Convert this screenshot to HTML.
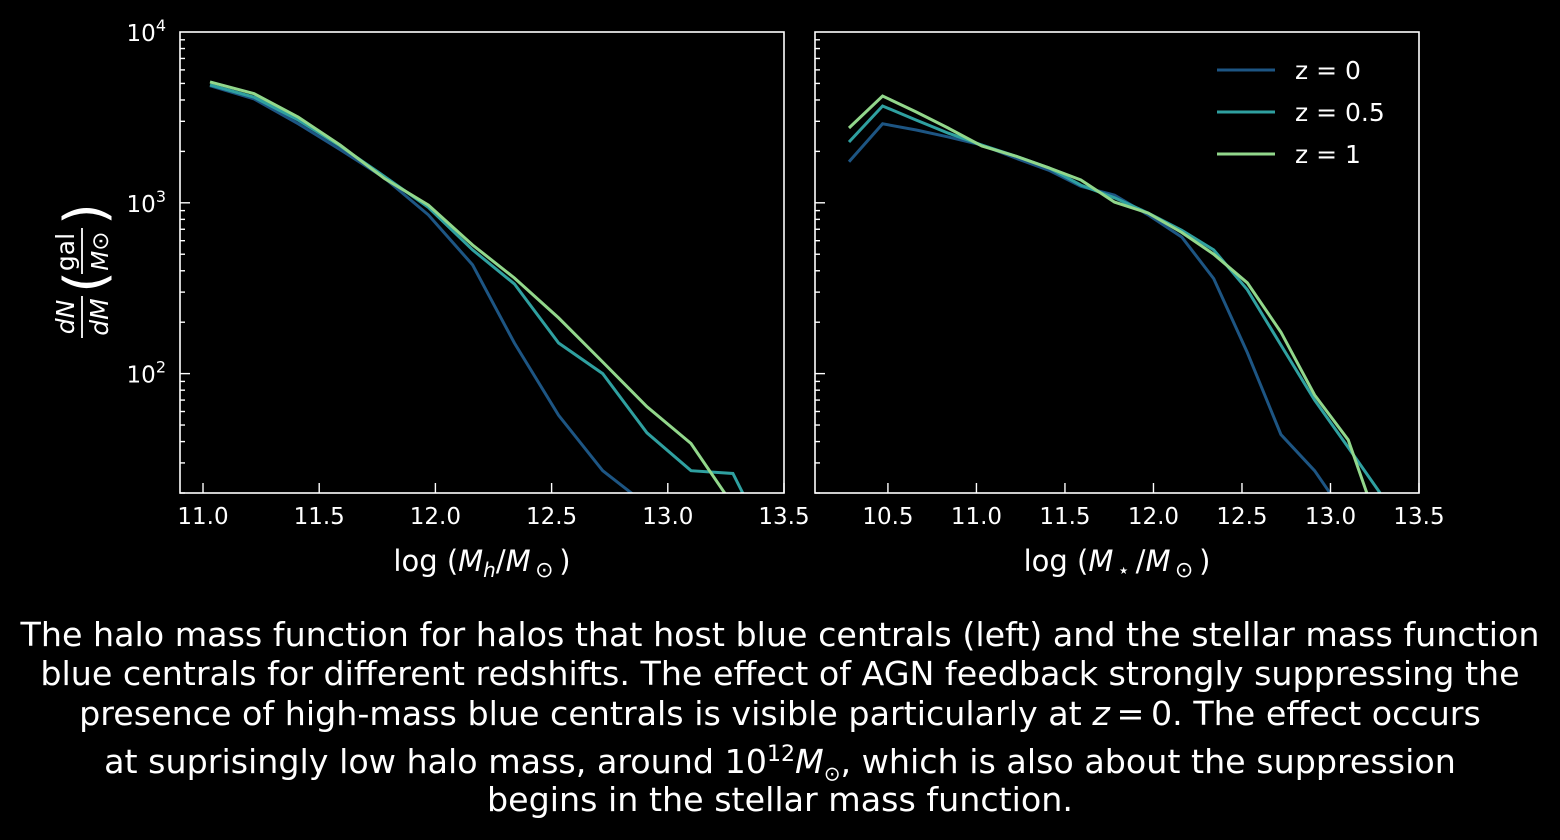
<!DOCTYPE html>
<html><head><meta charset="utf-8"><style>
html,body{margin:0;padding:0;background:#000;width:1560px;height:840px;overflow:hidden}
svg{display:block}
text{font-family:"DejaVu Sans","Liberation Sans",sans-serif;fill:#fff}
.cl{position:absolute;left:0;width:1560px;text-align:center;color:#fff;font-family:"DejaVu Sans","Liberation Sans",sans-serif;font-size:33.3px;line-height:36px;white-space:nowrap}
</style></head><body>
<svg id="chart" width="1560" height="600"></svg>
<div>
<div class="cl" style="top:617px">The halo mass function for halos that host blue centrals (left) and the stellar mass function</div>
<div class="cl" style="top:656px">blue centrals for different redshifts. The effect of AGN feedback strongly suppressing the</div>
<div class="cl" style="top:696px">presence of high-mass blue centrals is visible particularly at <i>z</i>&#8201;=&#8201;0. The effect occurs</div>
<div class="cl" style="top:744px">at suprisingly low halo mass, around 10<sup style="font-size:22px;line-height:0">12</sup><i>M</i><sub style="font-size:20px;line-height:0">⊙</sub>, which is also about the suppression</div>
<div class="cl" style="top:782px">begins in the stellar mass function.</div>
</div>
<script>
const seriesNames = ["z = 0", "z = 0.5", "z = 1"];
const seriesColors = ["#1d5583", "#2fa0a0", "#92d78b"];
const haloX = [11.03,11.22,11.41,11.59,11.78,11.97,12.16,12.34,12.53,12.72,12.91,13.10,13.28,13.47];
const haloZ0 = [4850,4050,2900,2050,1400,850,433,151,57,27,17,10,6,4];
const haloZ05 = [4900,4150,3050,2150,1430,940,530,335,151,100,45,27,26,8];
const haloZ1 = [5100,4350,3170,2180,1390,970,566,363,212,117,64,39,17,8];
const starX = [10.28,10.47,10.66,10.84,11.03,11.22,11.41,11.59,11.78,11.97,12.16,12.34,12.53,12.72,12.91,13.10,13.28];
const starZ0 = [1740,2900,2670,2430,2180,1830,1550,1250,1110,850,630,360,133,44,27,14,8];
const starZ05 = [2270,3690,3050,2560,2180,1880,1600,1270,1070,870,690,530,310,147,70,37,20];
const starZ1 = [2740,4220,3400,2740,2150,1880,1600,1360,1010,870,670,500,340,175,75,41,12];
const xTicks = [11.0,11.5,12.0,12.5,13.0,13.5];
const xTicksR = [10.5,11.0,11.5,12.0,12.5,13.0,13.5];
const NS="http://www.w3.org/2000/svg";
const svg=document.getElementById('chart');
function el(t,a,p){const e=document.createElementNS(NS,t);for(const k in a)e.setAttribute(k,a[k]);(p||svg).appendChild(e);return e;}
const T=32,B=493,ymin=Math.log10(20),ymax=4;
function Y(v){return B-(Math.log10(v)-ymin)/(ymax-ymin)*(B-T);}
function makePanel(name,L,R,x0,x1,ticks,labelY,xs,ys,xlabel){
  const X=v=>L+(v-x0)/(x1-x0)*(R-L);
  const g=el('g',{});
  
  
  const cid='clip-'+name;
  const cp=el('clipPath',{id:cid},g);el('rect',{x:L,y:T,width:R-L,height:B-T},cp);
  const lg=el('g',{'clip-path':'url(#'+cid+')'},g);
  ys.forEach((arr,i)=>{
    const p=el('polyline',{points:arr.map((v,j)=>X(xs[j]).toFixed(1)+','+Y(v).toFixed(1)).join(' '),fill:'none',stroke:seriesColors[i],'stroke-width':3,'stroke-linejoin':'miter'},lg);
    
    
  });
  const fr=el('rect',{x:L,y:T,width:R-L,height:B-T,fill:'none',stroke:'#fff','stroke-width':1.6},g);
  
  
  ticks.forEach(t=>{const x=X(t);el('line',{x1:x,x2:x,y1:B,y2:B-10,stroke:'#fff','stroke-width':1.4},g);
    const tx=el('text',{x:x,y:B+31,'font-size':23,'text-anchor':'middle'},g);tx.textContent=t.toFixed(1);
    
    });
  for(let d=1;d<=3;d++)for(let m=1;m<10;m++){const v=m*Math.pow(10,d);if(v<20||v>10000)continue;const y=Y(v);
    el('line',{x1:L,x2:L+(m==1?10:5),y1:y,y2:y,stroke:'#fff','stroke-width':1.4},g);}
  if(labelY){[2,3,4].forEach(d=>{const y=Y(Math.pow(10,d));const tx=el('text',{x:L-14,y:y+9,'font-size':23,'text-anchor':'end'},g);
    tx.innerHTML='10<tspan dy="-10" font-size="16">'+d+'</tspan>';
    
    });}
  const xl=el('text',{x:(L+R)/2,y:571,'font-size':29,'text-anchor':'middle'},g);
  xl.innerHTML=xlabel;
  
  
}
makePanel('halo-panel',180,784,10.901,13.5,xTicks,true,haloX,[haloZ0,haloZ05,haloZ1],'log (<tspan font-style="italic">M</tspan><tspan font-size="20" dy="6" font-style="italic">h</tspan><tspan dy="-6">/</tspan><tspan font-style="italic">M</tspan><tspan font-size="22" dy="6">&#8201;⊙</tspan><tspan dy="-6">&#8201;)</tspan>');
makePanel('stellar-panel',815,1419,10.088,13.5,xTicksR,false,starX,[starZ0,starZ05,starZ1],'log (<tspan font-style="italic">M</tspan><tspan font-size="20" dy="6">&#8201;⋆</tspan><tspan dy="-6">&#8201;/</tspan><tspan font-style="italic">M</tspan><tspan font-size="22" dy="6">&#8201;⊙</tspan><tspan dy="-6">&#8201;)</tspan>');
// y axis title
const yt=el('g',{transform:'translate(80,262) rotate(-90)'});


yt.innerHTML='<text x="-55" y="-6" font-size="25" font-style="italic" text-anchor="middle">dN</text><line x1="-76" x2="-34" y1="2" y2="2" stroke="#fff" stroke-width="1.8"/><text x="-55" y="28" font-size="25" font-style="italic" text-anchor="middle">dM</text><text x="-20" y="24" font-size="56" text-anchor="middle" transform="scale(1,1)">(</text><text x="10" y="-6" font-size="25" text-anchor="middle">gal</text><line x1="-12" x2="34" y1="2" y2="2" stroke="#fff" stroke-width="1.8"/><text x="11" y="28" font-size="23" font-style="italic" text-anchor="middle">M⊙</text><text x="48" y="24" font-size="56" text-anchor="middle">)</text>';
// legend
seriesNames.forEach((n,i)=>{const y=70+i*42;
  const g=el('g',{});
  
  
  el('line',{x1:1217,x2:1275,y1:y,y2:y,stroke:seriesColors[i],'stroke-width':3},g);
  const t=el('text',{x:1295,y:y+9,'font-size':25},g);t.textContent=n;});
</script>
</body></html>
